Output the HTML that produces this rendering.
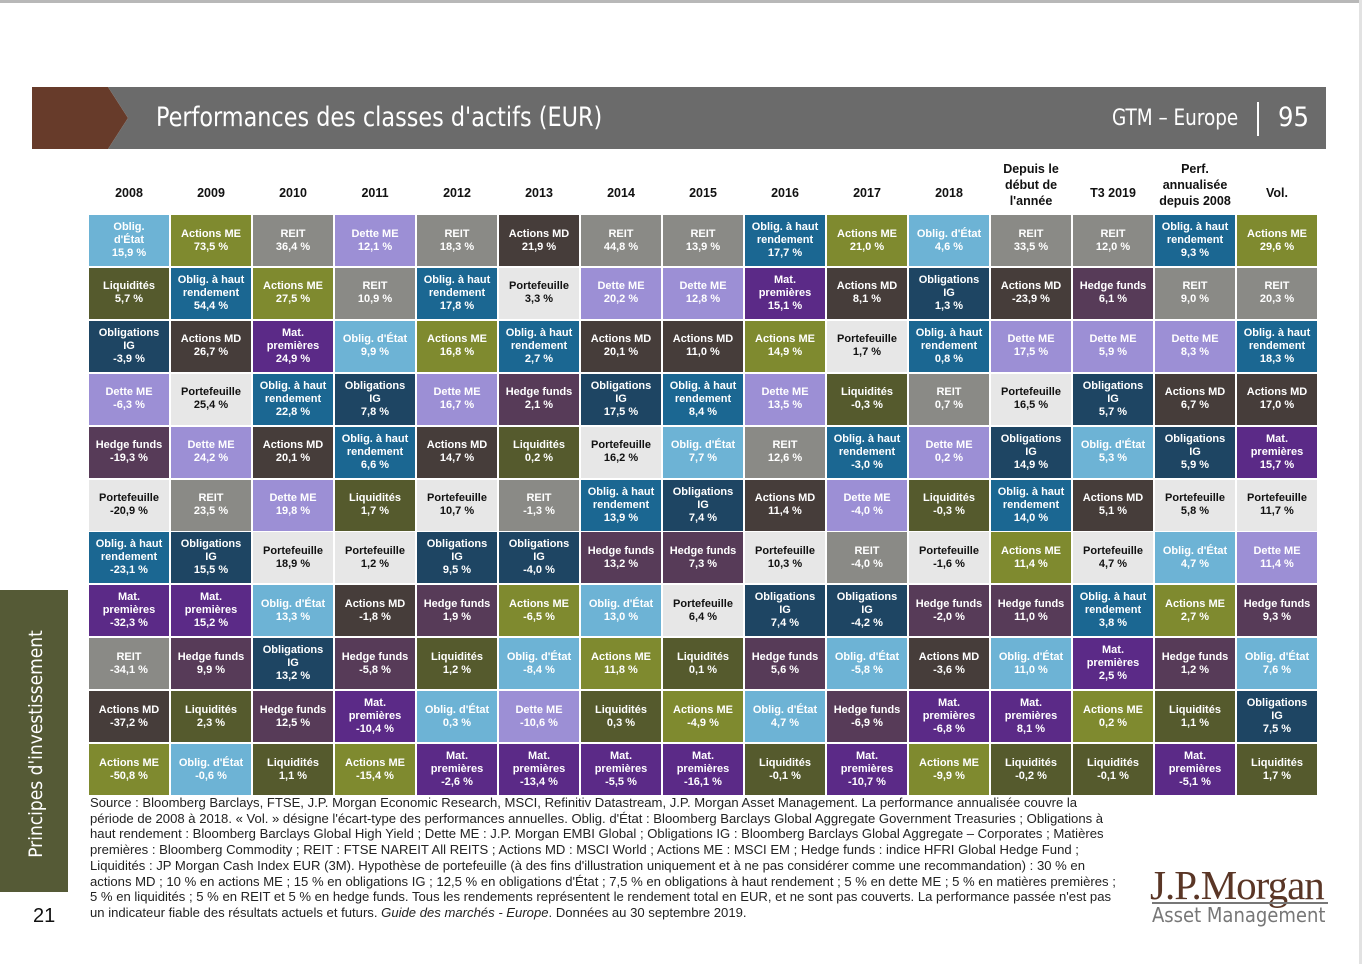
<!DOCTYPE html>
<html lang="fr"><head><meta charset="utf-8"><title>Performances des classes d'actifs (EUR)</title>
<style>
html,body{margin:0;padding:0;background:#fff;}
body{width:1362px;height:964px;position:relative;overflow:hidden;font-family:"Liberation Sans",Arial,sans-serif;}
.abs{position:absolute;}
#topline{left:0;top:0;width:1362px;height:3px;background:#b8b8b8;}
#rightline{left:1359px;top:0;width:3px;height:964px;background:#e2e2e2;}
#brown{left:32px;top:87px;width:66px;height:62px;background:#673b2a;}
#chev{left:98px;top:87px;width:30px;height:62px;}
#bar{left:108px;top:87px;width:1218px;height:62px;background:#6b6b6b;clip-path:polygon(0 0,100% 0,100% 100%,0 100%,20px 50%);}
#title{left:156px;top:102px;color:#fff;font-family:"DejaVu Sans Condensed","Liberation Sans Narrow","Liberation Sans",sans-serif;font-size:27px;white-space:nowrap;transform-origin:0 0;transform:scaleX(0.92);}
#gtm{left:1112px;top:106px;color:#fff;font-family:"DejaVu Sans Condensed","Liberation Sans Narrow",sans-serif;font-size:22px;white-space:nowrap;transform-origin:0 0;transform:scaleX(0.93);}
#sep{left:1257px;top:102px;width:2px;height:34px;background:#fff;}
#pnum{left:1278px;top:102px;color:#fff;font-family:"DejaVu Sans Condensed","Liberation Sans Narrow",sans-serif;font-size:27px;}
.hdr{position:absolute;width:80px;text-align:center;font-weight:bold;font-size:12.5px;line-height:16px;color:#111;}
.cell{position:absolute;width:80px;height:51px;display:flex;align-items:center;justify-content:center;text-align:center;font-weight:bold;font-size:11px;line-height:13px;color:#fff;}
#side{left:0;top:590px;width:68px;height:302px;background:#555a36;}
#sidetext{left:36px;top:744px;color:#fff;font-family:"DejaVu Sans Condensed","Liberation Sans",sans-serif;font-size:19px;white-space:nowrap;transform:translate(-50%,-50%) rotate(-90deg);}
#pg{left:33px;top:905px;font-size:20px;color:#111;}
#foot{left:90px;top:795px;font-size:13.1px;line-height:15.7px;color:#222;white-space:nowrap;}
#logo1{left:1150px;top:861px;font-family:"Liberation Serif",serif;font-size:41px;color:#5a3626;letter-spacing:-1px;}
#logoline{left:1152px;top:902px;width:176px;height:2px;background:#777;}
#logo2{left:1152px;top:903px;font-family:"DejaVu Sans Condensed","Liberation Sans",sans-serif;font-size:20px;color:#777;}
</style></head>
<body>
<div class="abs" id="topline"></div>
<div class="abs" id="rightline"></div>
<div class="abs" id="brown"></div>
<svg class="abs" id="chev" viewBox="0 0 30 62"><polygon points="0,0 10,0 30,31 10,62 0,62" fill="#673b2a"/></svg>
<div class="abs" id="bar"></div>
<div class="abs" id="title">Performances des classes d'actifs (EUR)</div>
<div class="abs" id="gtm">GTM – Europe</div>
<div class="abs" id="sep"></div>
<div class="abs" id="pnum">95</div>
<div id="grid"></div>
<div class="abs" id="side"></div>
<div class="abs" id="sidetext">Principes d'investissement</div>
<div class="abs" id="pg">21</div>
<div class="abs" id="foot">Source : Bloomberg Barclays, FTSE, J.P. Morgan Economic Research, MSCI, Refinitiv Datastream, J.P. Morgan Asset Management. La performance annualisée couvre la<br>période de 2008 à 2018. « Vol. » désigne l'écart-type des performances annuelles. Oblig. d'État : Bloomberg Barclays Global Aggregate Government Treasuries ; Obligations à<br>haut rendement : Bloomberg Barclays Global High Yield ; Dette ME : J.P. Morgan EMBI Global ; Obligations IG : Bloomberg Barclays Global Aggregate – Corporates ; Matières<br>premières : Bloomberg Commodity ; REIT : FTSE NAREIT All REITS ; Actions MD : MSCI World ; Actions ME : MSCI EM ; Hedge funds : indice HFRI Global Hedge Fund ;<br>Liquidités : JP Morgan Cash Index EUR (3M). Hypothèse de portefeuille (à des fins d'illustration uniquement et à ne pas considérer comme une recommandation) : 30 % en<br>actions MD ; 10 % en actions ME ; 15 % en obligations IG ; 12,5 % en obligations d'État ; 7,5 % en obligations à haut rendement ; 5 % en dette ME ; 5 % en matières premières ;<br>5 % en liquidités ; 5 % en REIT et 5 % en hedge funds. Tous les rendements représentent le rendement total en EUR, et ne sont pas couverts. La performance passée n'est pas<br>un indicateur fiable des résultats actuels et futurs. <i>Guide des marchés - Europe</i>. Données au 30 septembre 2019.</div>
<div class="abs" id="logo1">J.P.Morgan</div>
<div class="abs" id="logoline"></div>
<div class="abs" id="logo2">Asset Management</div>
<script>
const columns = ["2008","2009","2010","2011","2012","2013","2014","2015","2016","2017","2018","Depuis le<br>début de<br>l'année","T3 2019","Perf.<br>annualisée<br>depuis 2008","Vol."];
const assetNames = {E:"Oblig. d'État",E2:"Oblig.<br>d'État",AME:"Actions ME",R:"REIT",DME:"Dette ME",AMD:"Actions MD",IG:"Obligations<br>IG",HY:"Oblig. à haut<br>rendement",MP:"Mat.<br>premières",L:"Liquidités",HF:"Hedge funds",P:"Portefeuille"};
const assetColors = {E:"#6db3d5",E2:"#6db3d5",AME:"#7f8a2f",R:"#8a8a86",DME:"#9c8fd5",AMD:"#463d3a",IG:"#1e4563",HY:"#1b6792",MP:"#5b2a87",L:"#555a2d",HF:"#573b58",P:"#e7e7e7"};
const col2008 = [["E2","15,9"],["L","5,7"],["IG","-3,9"],["DME","-6,3"],["HF","-19,3"],["P","-20,9"],["HY","-23,1"],["MP","-32,3"],["R","-34,1"],["AMD","-37,2"],["AME","-50,8"]];
const col2009 = [["AME","73,5"],["HY","54,4"],["AMD","26,7"],["P","25,4"],["DME","24,2"],["R","23,5"],["IG","15,5"],["MP","15,2"],["HF","9,9"],["L","2,3"],["E","-0,6"]];
const col2010 = [["R","36,4"],["AME","27,5"],["MP","24,9"],["HY","22,8"],["AMD","20,1"],["DME","19,8"],["P","18,9"],["E","13,3"],["IG","13,2"],["HF","12,5"],["L","1,1"]];
const col2011 = [["DME","12,1"],["R","10,9"],["E","9,9"],["IG","7,8"],["HY","6,6"],["L","1,7"],["P","1,2"],["AMD","-1,8"],["HF","-5,8"],["MP","-10,4"],["AME","-15,4"]];
const col2012 = [["R","18,3"],["HY","17,8"],["AME","16,8"],["DME","16,7"],["AMD","14,7"],["P","10,7"],["IG","9,5"],["HF","1,9"],["L","1,2"],["E","0,3"],["MP","-2,6"]];
const col2013 = [["AMD","21,9"],["P","3,3"],["HY","2,7"],["HF","2,1"],["L","0,2"],["R","-1,3"],["IG","-4,0"],["AME","-6,5"],["E","-8,4"],["DME","-10,6"],["MP","-13,4"]];
const col2014 = [["R","44,8"],["DME","20,2"],["AMD","20,1"],["IG","17,5"],["P","16,2"],["HY","13,9"],["HF","13,2"],["E","13,0"],["AME","11,8"],["L","0,3"],["MP","-5,5"]];
const col2015 = [["R","13,9"],["DME","12,8"],["AMD","11,0"],["HY","8,4"],["E","7,7"],["IG","7,4"],["HF","7,3"],["P","6,4"],["L","0,1"],["AME","-4,9"],["MP","-16,1"]];
const col2016 = [["HY","17,7"],["MP","15,1"],["AME","14,9"],["DME","13,5"],["R","12,6"],["AMD","11,4"],["P","10,3"],["IG","7,4"],["HF","5,6"],["E","4,7"],["L","-0,1"]];
const col2017 = [["AME","21,0"],["AMD","8,1"],["P","1,7"],["L","-0,3"],["HY","-3,0"],["DME","-4,0"],["R","-4,0"],["IG","-4,2"],["E","-5,8"],["HF","-6,9"],["MP","-10,7"]];
const col2018 = [["E","4,6"],["IG","1,3"],["HY","0,8"],["R","0,7"],["DME","0,2"],["L","-0,3"],["P","-1,6"],["HF","-2,0"],["AMD","-3,6"],["MP","-6,8"],["AME","-9,9"]];
const colYtd = [["R","33,5"],["AMD","-23,9"],["DME","17,5"],["P","16,5"],["IG","14,9"],["HY","14,0"],["AME","11,4"],["HF","11,0"],["E","11,0"],["MP","8,1"],["L","-0,2"]];
const colQ3 = [["R","12,0"],["HF","6,1"],["DME","5,9"],["IG","5,7"],["E","5,3"],["AMD","5,1"],["P","4,7"],["HY","3,8"],["MP","2,5"],["AME","0,2"],["L","-0,1"]];
const colAnn = [["HY","9,3"],["R","9,0"],["DME","8,3"],["AMD","6,7"],["IG","5,9"],["P","5,8"],["E","4,7"],["AME","2,7"],["HF","1,2"],["L","1,1"],["MP","-5,1"]];
const colVol = [["AME","29,6"],["R","20,3"],["HY","18,3"],["AMD","17,0"],["MP","15,7"],["P","11,7"],["DME","11,4"],["HF","9,3"],["E","7,6"],["IG","7,5"],["L","1,7"]];
const tableCols = [col2008,col2009,col2010,col2011,col2012,col2013,col2014,col2015,col2016,col2017,col2018,colYtd,colQ3,colAnn,colVol];

const X0 = 89, XSTEP = 82, Y0 = 215, YSTEP = 52.9;
function colX(i){ return X0 + i*XSTEP; }
function rowY(r){ return Y0 + r*YSTEP; }
const grid = document.getElementById('grid');
columns.forEach((c,i)=>{
  const h = document.createElement('div');
  h.className = 'hdr';
  
  
  h.innerHTML = c;
  const lines = c.split('<br>').length;
  h.style.left = colX(i) + 'px';
  h.style.top = (lines > 1 ? 161 : 185) + 'px';
  grid.appendChild(h);
});
tableCols.forEach((col,i)=>{
  col.forEach((entry,r)=>{
    const [k,v] = entry;
    const d = document.createElement('div');
    d.className = 'cell';
    
    
    d.style.left = colX(i) + 'px';
    d.style.top = rowY(r).toFixed(1) + 'px';
    d.style.background = assetColors[k];
    if (k === 'P') d.style.color = '#111';
    d.innerHTML = '<div>' + assetNames[k] + '<br>' + v + ' %</div>';
    grid.appendChild(d);
  });
});
</script>
</body></html>
